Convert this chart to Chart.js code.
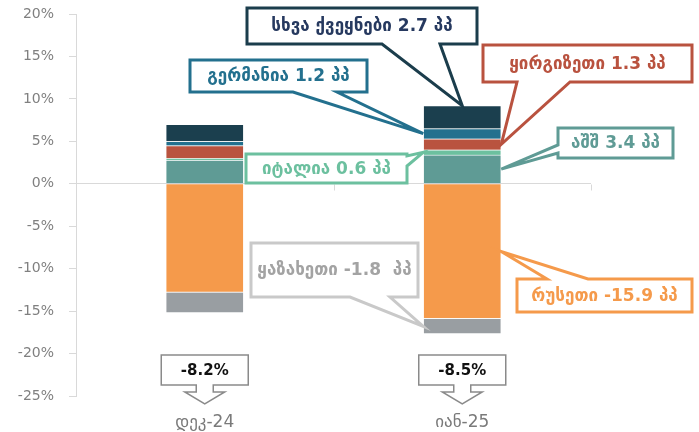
<!DOCTYPE html>
<html>
<head>
<meta charset="utf-8">
<script src="https://cdn.jsdelivr.net/npm/chart.js@4/dist/chart.umd.min.js"></script>
<style>
  html, body { margin: 0; padding: 0; background: #ffffff; }
  #wrap { width: 699px; height: 432px; }
</style>
</head>
<body>
<div id="wrap"><canvas id="c" width="699" height="432"></canvas></div>
<script>
// Contributions to export growth by country, percentage points
const categories = ['დეკ-24', 'იან-25'];
const usa        = [2.8, 3.4];
const italy      = [0.2, 0.6];
const kyrgyzstan = [1.5, 1.3];
const germany    = [0.5, 1.2];
const others     = [2.0, 2.7];
const russia     = [-12.8, -15.9];
const kazakhstan = [-2.4, -1.8];
const yMin = -25, yMax = 20, yStep = 5;

const series = [
  { name: 'აშშ',           data: usa,        color: '#5f9b95' },
  { name: 'იტალია',        data: italy,      color: '#6cc09f' },
  { name: 'ყირგიზეთი',     data: kyrgyzstan, color: '#b9533f' },
  { name: 'გერმანია',      data: germany,    color: '#23708e' },
  { name: 'სხვა ქვეყნები', data: others,     color: '#1b3f4e' },
  { name: 'რუსეთი',        data: russia,     color: '#f59a4b' },
  { name: 'ყაზახეთი',      data: kazakhstan, color: '#999ea2' }
];

// Callout boxes for the latest month: box [x1,y1,x2,y2], edge carrying the tail,
// tail base points along that edge (clockwise order) and where the tail points on the bar.
const callouts = [
  { s: 4, box: [247, 8, 477, 44],   side: 'bottom', base: [440, 382], at: 'top',   stroke: '#1b3d4c', text: '#26395f', gap: ' ' },
  { s: 3, box: [190, 60, 367, 92],  side: 'bottom', base: [337, 293], at: 'left',  stroke: '#23708e', text: '#23708e', gap: ' ' },
  { s: 2, box: [483, 45, 692, 82],  side: 'bottom', base: [570, 517], at: 'right', stroke: '#b9523f', text: '#b9523f', gap: ' ' },
  { s: 0, box: [558, 128, 673, 158], side: 'left',  base: [153, 145], at: 'right', stroke: '#5f9b95', text: '#5f9b95', gap: ' ' },
  { s: 1, box: [246, 154, 407, 183], side: 'right', base: [156, 166], at: 'left',  stroke: '#6cc09f', text: '#6cc09f', gap: ' ' },
  { s: 5, box: [517, 279, 692, 312], side: 'top',   base: [547, 588], at: 'right', stroke: '#f59a4b', text: '#f59a4b', gap: ' ' },
  { s: 6, box: [251, 243, 418, 297], side: 'bottom', base: [390, 350], at: 'left', stroke: '#c9c9c9', text: '#a3a3a3', gap: '  ' }
];

function calloutPath(ctx, b, side, base, tip) {
  const [x1, y1, x2, y2] = b;
  ctx.beginPath();
  ctx.moveTo(x1, y1);
  if (side === 'top') { ctx.lineTo(base[0], y1); ctx.lineTo(tip.x, tip.y); ctx.lineTo(base[1], y1); }
  ctx.lineTo(x2, y1);
  if (side === 'right') { ctx.lineTo(x2, base[0]); ctx.lineTo(tip.x, tip.y); ctx.lineTo(x2, base[1]); }
  ctx.lineTo(x2, y2);
  if (side === 'bottom') { ctx.lineTo(base[0], y2); ctx.lineTo(tip.x, tip.y); ctx.lineTo(base[1], y2); }
  ctx.lineTo(x1, y2);
  if (side === 'left') { ctx.lineTo(x1, base[0]); ctx.lineTo(tip.x, tip.y); ctx.lineTo(x1, base[1]); }
  ctx.closePath();
}

function anchorOf(el, at) {
  const top = Math.min(el.y, el.base), bottom = Math.max(el.y, el.base);
  const midY = (top + bottom) / 2;
  if (at === 'top') return { x: el.x, y: top };
  if (at === 'left') return { x: el.x - el.width / 2, y: midY };
  return { x: el.x + el.width / 2, y: midY };
}

const annotate = {
  id: 'annotate',
  beforeDatasetsDraw(chart) {
    // small tick marks along the zero line at the category boundaries
    const ctx = chart.ctx, x = chart.scales.x, y = chart.scales.y;
    const y0 = Math.round(y.getPixelForValue(0)) + 0.5;
    ctx.save();
    ctx.strokeStyle = '#d9d9d9';
    ctx.lineWidth = 1;
    const half = (x.getPixelForValue(1) - x.getPixelForValue(0)) / 2;
    for (let i = 0; i < categories.length; i++) {
      const px = Math.round(x.getPixelForValue(i) + half) + 0.5;
      ctx.beginPath(); ctx.moveTo(px, y0); ctx.lineTo(px, y0 + 6); ctx.stroke();
    }
    ctx.restore();
  },
  afterDatasetsDraw(chart) {
    const ctx = chart.ctx;
    const last = categories.length - 1;
    ctx.save();
    ctx.lineJoin = 'miter';
    for (const c of callouts) {
      const el = chart.getDatasetMeta(c.s).data[last];
      const tip = anchorOf(el, c.at);
      calloutPath(ctx, c.box, c.side, c.base, tip);
      ctx.fillStyle = '#ffffff';
      ctx.fill();
      ctx.strokeStyle = c.stroke;
      ctx.lineWidth = 3;
      ctx.stroke();
      const sr = series[c.s];
      const label = sr.name + ' ' + sr.data[last].toFixed(1) + c.gap + 'პპ';
      ctx.fillStyle = c.text;
      ctx.font = 'bold 17px "DejaVu Sans"';
      ctx.textAlign = 'center';
      ctx.textBaseline = 'middle';
      ctx.fillText(label, (c.box[0] + c.box[2]) / 2, (c.box[1] + c.box[3]) / 2 + 1);
    }

    // net change boxes with a down arrow under each bar
    for (let i = 0; i < categories.length; i++) {
      const net = series.reduce((a, s) => a + s.data[i], 0);
      const cx = chart.getDatasetMeta(0).data[i].x;
      const w = 87, top = 355, h = 30, sh = 8.5, hh = 20, neck = 7, tipY = 404;
      const x1 = cx - w / 2, x2 = cx + w / 2, y2 = top + h;
      ctx.beginPath();
      ctx.moveTo(x1, top);
      ctx.lineTo(x2, top);
      ctx.lineTo(x2, y2);
      ctx.lineTo(cx + sh, y2);
      ctx.lineTo(cx + sh, y2 + neck);
      ctx.lineTo(cx + hh, y2 + neck);
      ctx.lineTo(cx, tipY);
      ctx.lineTo(cx - hh, y2 + neck);
      ctx.lineTo(cx - sh, y2 + neck);
      ctx.lineTo(cx - sh, y2);
      ctx.lineTo(x1, y2);
      ctx.closePath();
      ctx.fillStyle = '#ffffff';
      ctx.fill();
      ctx.strokeStyle = '#8a8a8a';
      ctx.lineWidth = 1.5;
      ctx.stroke();
      ctx.fillStyle = '#111111';
      ctx.font = 'bold 15px "DejaVu Sans"';
      ctx.textAlign = 'center';
      ctx.textBaseline = 'middle';
      ctx.fillText(net.toFixed(1) + '%', cx, top + h / 2 + 1);
    }
    ctx.restore();
  }
};

new Chart(document.getElementById('c'), {
  type: 'bar',
  data: {
    labels: categories,
    datasets: series.map(s => ({
      label: s.name,
      data: s.data,
      backgroundColor: s.color,
      borderColor: 'rgba(255,255,255,0.55)',
      borderWidth: 1,
      barThickness: 78
    }))
  },
  options: {
    responsive: false,
    animation: false,
    devicePixelRatio: 1,
    layout: { padding: { left: 0, right: 108, top: 14, bottom: 0 } },
    plugins: { legend: { display: false }, tooltip: { enabled: false } },
    scales: {
      x: {
        stacked: true,
        grid: { display: false, drawTicks: false },
        border: { display: false },
        ticks: { color: '#7a7a7a', font: { family: 'DejaVu Sans', size: 17 }, padding: 16 },
        afterFit(scale) { scale.height = 36; }
      },
      y: {
        stacked: true,
        min: yMin, max: yMax,
        ticks: {
          stepSize: yStep,
          color: '#808080',
          padding: 15,
          font: { family: 'DejaVu Sans', size: 14 },
          callback: v => v + '%'
        },
        grid: {
          color: ctx => (ctx.tick && ctx.tick.value === 0) ? '#d9d9d9' : 'rgba(0,0,0,0)',
          tickColor: '#d9d9d9',
          tickLength: 7,
          lineWidth: 1
        },
        border: { display: true, color: '#d9d9d9', width: 1 },
        afterFit(scale) {
          scale.width = 76;
          scale.paddingTop = 0;
          scale.paddingBottom = 0;
        }
      }
    }
  },
  plugins: [annotate]
});
</script>
</body>
</html>
